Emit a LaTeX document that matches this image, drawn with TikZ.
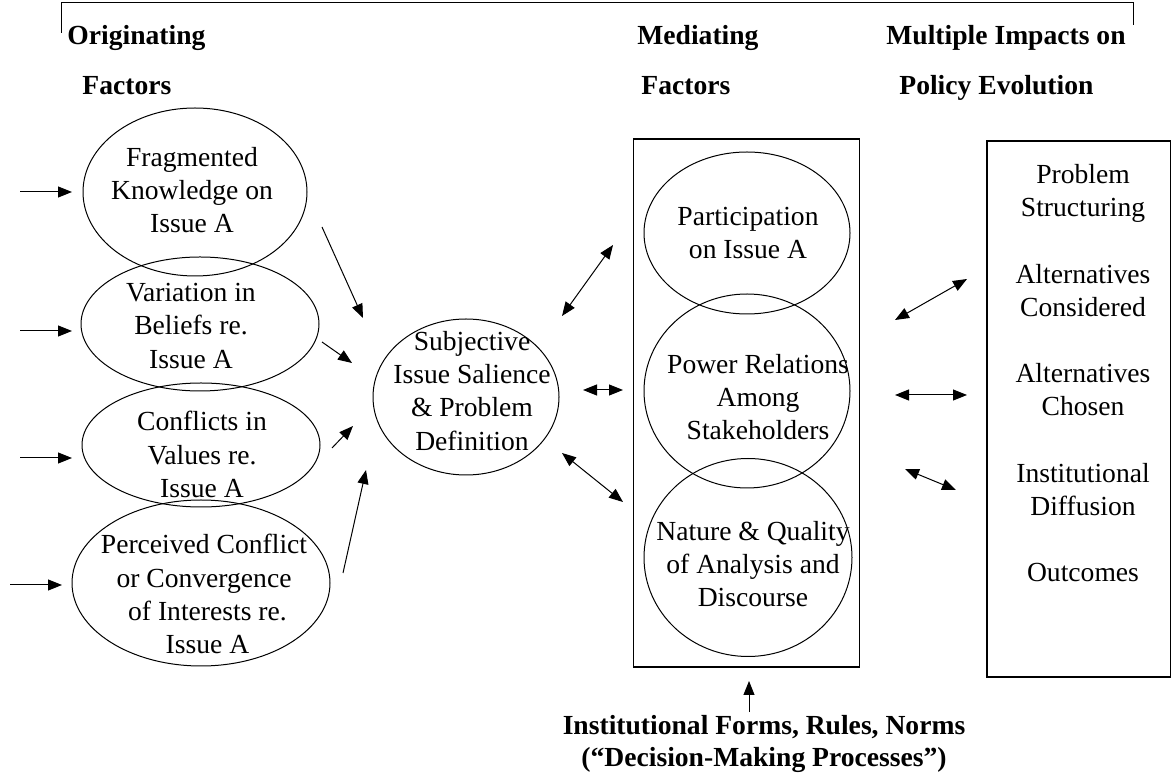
\documentclass[tikz,border=0pt]{standalone}
\usepackage{fontspec}
\setmainfont{Liberation Serif}
\usetikzlibrary{arrows.meta,shapes.geometric}
\begin{document}
\begin{tikzpicture}[x=0.5pt,y=-0.5pt,
  ell/.style={draw,ellipse,line width=0.5pt,inner sep=0pt,outer sep=0pt},
  txt/.style={align=center,inner sep=0pt,anchor=north,font=\fontsize{13.8}{16.6}\selectfont},
  hdr/.style={inner sep=0pt,anchor=base west,font=\fontsize{13.8}{16.6}\selectfont\bfseries},
  arr/.style={line width=0.5pt,-{Triangle[length=7pt,width=5.5pt]}},
  darr/.style={line width=0.5pt,{Triangle[length=7pt,width=5.5pt]}-{Triangle[length=7pt,width=5.5pt]}},
  box/.style={draw,line width=0.6pt,inner sep=0pt}]
\useasboundingbox (0,0) rectangle (1172,779);
% top bracket
\draw[line width=0.5pt] (61,33) -- (61,3) -- (1133,3) -- (1133,25);
% headers
\node[hdr] (h1) at (67,45) {Originating};
\node[hdr] (h2) at (82,95) {Factors};
\node[hdr] (h3) at (637,45) {Mediating};
\node[hdr] (h4) at (641,95) {Factors};
\node[hdr] (h5) at (886,45) {Multiple Impacts on};
\node[hdr] (h6) at (899,95) {Policy Evolution};
% left ellipses
\node[ell,minimum width=112pt,minimum height=84pt] (e1) at (195,192) {};
\node[ell,minimum width=119pt,minimum height=67pt] (e2) at (200,324) {};
\node[ell,minimum width=119pt,minimum height=62pt] (e3) at (201,445) {};
\node[ell,minimum width=129pt,minimum height=83pt] (e4) at (201,583) {};
\node[txt] (t1) at (192,147) {Fragmented\\Knowledge on\\Issue A};
\node[txt] (t2) at (191,283) {Variation in\\Beliefs re.\\Issue A};
\node[txt] (t3) at (202,411) {Conflicts in\\Values re.\\Issue A};
\node[txt] (t4) at (204,534) {Perceived Conflict\\or Convergence\\\ of Interests re.\\\ Issue A};
% central ellipse
\node[ell,minimum width=93pt,minimum height=78pt] (c) at (466,397) {};
\node[txt] (tc) at (472,331) {Subjective\\Issue Salience\\\& Problem\\Definition};
% middle box
\node[box,minimum width=113pt,minimum height=264pt] (mb) at (746.5,403) {};
\node[ell,minimum width=103pt,minimum height=81pt] (p1) at (747,233) {};
\node[ell,minimum width=103pt,minimum height=97pt] (p2) at (747,391) {};
\node[ell,minimum width=104pt,minimum height=99pt] (p3) at (748,557.5) {};
\node[txt] (tp1) at (748,207) {Participation\\on Issue A};
\node[txt] (tp2) at (758,354) {Power Relations\\Among\\Stakeholders};
\node[txt] (tp3) at (753,521) {Nature \& Quality\\of Analysis and\\Discourse};
% right box
\node[box,minimum width=91.75pt,minimum height=268pt] (rb) at (1078.75,409) {};
\node[txt] (tr) at (1083,164) {Problem\\Structuring\\[16.6pt]Alternatives\\Considered\\[16.6pt]Alternatives\\Chosen\\[16.6pt]Institutional\\Diffusion\\[16.6pt]Outcomes};
% bottom text
\node[txt,font=\fontsize{13.8}{16}\selectfont\bfseries] (bt) at (764,715) {Institutional Forms, Rules, Norms\\(``Decision-Making Processes'')};
% coordinates for arrows
\coordinate (l1s) at (20,192); \coordinate (l1e) at (72,192);
\coordinate (l2s) at (20,331); \coordinate (l2e) at (72,331);
\coordinate (l3s) at (20,458); \coordinate (l3e) at (72,458);
\coordinate (l4s) at (10,585); \coordinate (l4e) at (62,585);
\coordinate (a1s) at (322,227); \coordinate (a1e) at (363,318);
\coordinate (a2s) at (322,342); \coordinate (a2e) at (352,363);
\coordinate (a3s) at (332,448); \coordinate (a3e) at (353,426);
\coordinate (a4s) at (343,573); \coordinate (a4e) at (366,470);
\coordinate (b1s) at (562,316); \coordinate (b1e) at (613,245);
\coordinate (b2s) at (583,390); \coordinate (b2e) at (623,390);
\coordinate (b3s) at (562,453); \coordinate (b3e) at (623,502);
\coordinate (c1s) at (895,320); \coordinate (c1e) at (967,279);
\coordinate (c2s) at (895,395); \coordinate (c2e) at (967,395);
\coordinate (c3s) at (905,469); \coordinate (c3e) at (956,490);
\coordinate (ds) at (749,712); \coordinate (de) at (749,681);
\draw[arr] (l1s) -- (l1e);
\draw[arr] (l2s) -- (l2e);
\draw[arr] (l3s) -- (l3e);
\draw[arr] (l4s) -- (l4e);
\draw[arr] (a1s) -- (a1e);
\draw[arr] (a2s) -- (a2e);
\draw[arr] (a3s) -- (a3e);
\draw[arr] (a4s) -- (a4e);
\draw[darr] (b1s) -- (b1e);
\draw[darr] (b2s) -- (b2e);
\draw[darr] (b3s) -- (b3e);
\draw[darr] (c1s) -- (c1e);
\draw[darr] (c2s) -- (c2e);
\draw[darr] (c3s) -- (c3e);
\draw[arr] (ds) -- (de);
\end{tikzpicture}
\end{document}
